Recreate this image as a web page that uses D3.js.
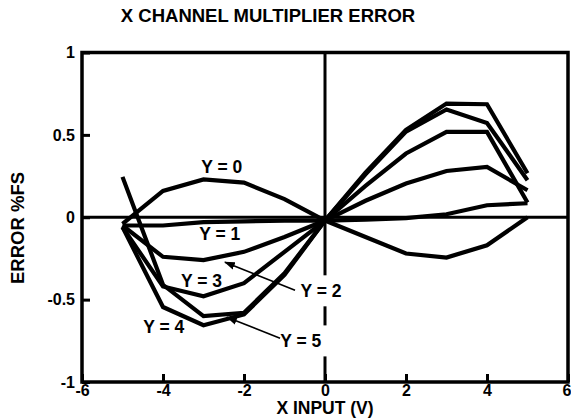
<!DOCTYPE html>
<html>
<head>
<meta charset="utf-8">
<script src="https://cdn.jsdelivr.net/npm/d3@7"></script>
<style>
    html, body { margin: 0; padding: 0; background: #fff; }
    svg { display: block; font-family: 'Liberation Sans', Arial, Helvetica, sans-serif; font-weight: bold; }
</style>
</head>
<body>
<svg id="chart" width="571" height="419"></svg>
<script>
const xInput = [-5, -4, -3, -2, -1, 0, 1, 2, 3, 4, 5];

const errY0 = [-0.04, 0.16, 0.23, 0.21, 0.11, -0.02, -0.12, -0.22, -0.245, -0.17, 0.0];
const errY1 = [-0.05, -0.05, -0.03, -0.025, -0.02, -0.02, -0.015, -0.005, 0.018, 0.073, 0.085];
const errY2 = [-0.05, -0.24, -0.26, -0.21, -0.12, -0.02, 0.10, 0.205, 0.281, 0.305, 0.164];
const errY3 = [-0.06, -0.42, -0.48, -0.40, -0.21, -0.02, 0.19, 0.387, 0.518, 0.518, 0.09];
const errY4 = [-0.06, -0.545, -0.655, -0.59, -0.35, -0.02, 0.27, 0.53, 0.69, 0.686, 0.267];
const errY5 = [0.245, -0.41, -0.60, -0.58, -0.34, -0.02, 0.26, 0.52, 0.654, 0.572, 0.225];

const xTicks = [-6, -4, -2, 0, 2, 4, 6];
const yTicks = [-1, -0.5, 0, 0.5, 1];

// curve labels, in data units: [text, x, y]
const curveLabels = [
    ['Y = 0', -2.55, 0.27],
    ['Y = 1', -2.6, -0.14],
    ['Y = 3', -3.05, -0.425],
    ['Y = 4', -3.98, -0.70]
];
// callouts with arrows: [text, labelX, labelY, fromX, fromY, toX, toY]
const callouts = [
    ['Y = 2', -0.1, -0.486, -0.74, -0.443, -2.47, -0.273],
    ['Y = 5', -0.6, -0.79, -1.11, -0.734, -2.42, -0.607]
];

const margin = { top: 52.5, left: 82, bottom: 37, right: 3 };
const width = 571;
const height = 419;

const svg = d3.select('#chart');

const x = d3.scaleLinear()
    .domain([-6, 6])
    .range([margin.left, width - margin.right]);

const y = d3.scaleLinear()
    .domain([-1, 1])
    .range([height - margin.bottom, margin.top]);

const series = [errY0, errY1, errY2, errY3, errY4, errY5];

svg.append('text')
    .attr('x', 268)
    .attr('y', 22)
    .attr('text-anchor', 'middle')
    .attr('font-size', 18.5)
    .text('X CHANNEL MULTIPLIER ERROR');

// axes
const xAxe = d3.axisBottom(x)
    .tickValues(xTicks)
    .tickFormat(d => String(d))
    .tickSizeInner(-8)
    .tickSizeOuter(0)
    .tickPadding(3);

const yAxe = d3.axisLeft(y)
    .tickValues(yTicks)
    .tickFormat(d => String(d))
    .tickSizeInner(-8)
    .tickSizeOuter(0)
    .tickPadding(7);

const gx = svg.append('g')
    .attr('transform', `translate(0,${y(-1)})`)
    .call(xAxe);

const gy = svg.append('g')
    .attr('transform', `translate(${x(-6)},0)`)
    .call(yAxe);

[gx, gy].forEach((g) => {
    g.select('.domain').remove();
    g.selectAll('line').attr('stroke', '#000').attr('stroke-width', 3);
    g.selectAll('text')
        .attr('fill', '#000')
        .attr('font-size', 16)
        .attr('font-family', null);
});

// last x label sits against the right edge
gx.selectAll('.tick text')
    .filter(d => d === 6)
    .attr('text-anchor', 'end')
    .attr('x', 3);

// zero lines
svg.append('line')
    .attr('x1', x(-6)).attr('x2', x(6))
    .attr('y1', y(0)).attr('y2', y(0))
    .attr('stroke', '#000')
    .attr('stroke-width', 3);

svg.append('line')
    .attr('x1', x(0)).attr('x2', x(0))
    .attr('y1', y(-1)).attr('y2', y(1))
    .attr('stroke', '#000')
    .attr('stroke-width', 3);

// frame
svg.append('rect')
    .attr('x', x(-6))
    .attr('y', y(1))
    .attr('width', x(6) - x(-6))
    .attr('height', y(-1) - y(1))
    .attr('fill', 'none')
    .attr('stroke', '#000')
    .attr('stroke-width', 3.5);

const line = d3.line()
    .x((d, i) => x(xInput[i]))
    .y(d => y(d));

svg.append('g')
    .selectAll('path')
    .data(series)
    .enter()
    .append('path')
    .attr('d', line)
    .attr('fill', 'none')
    .attr('stroke', '#000')
    .attr('stroke-width', 4.2)
    .attr('stroke-linejoin', 'miter');

svg.append('defs')
    .append('marker')
    .attr('id', 'head')
    .attr('viewBox', '0 0 10 10')
    .attr('refX', 9)
    .attr('refY', 5)
    .attr('markerWidth', 11)
    .attr('markerHeight', 11)
    .attr('markerUnits', 'userSpaceOnUse')
    .attr('orient', 'auto')
    .append('path')
    .attr('d', 'M0,1.5 L10,5 L0,8.5 Z')
    .attr('fill', '#000');

svg.append('g')
    .selectAll('text')
    .data(curveLabels)
    .enter()
    .append('text')
    .attr('x', d => x(d[1]))
    .attr('y', d => y(d[2]))
    .attr('text-anchor', 'middle')
    .attr('font-size', 17.5)
    .text(d => d[0]);

const co = svg.append('g')
    .selectAll('g')
    .data(callouts)
    .enter()
    .append('g');

co.append('rect')
    .attr('x', d => x(d[1]) - 27)
    .attr('y', d => y(d[2]) - 22)
    .attr('width', 54)
    .attr('height', 31)
    .attr('fill', '#fff');

co.append('text')
    .attr('x', d => x(d[1]))
    .attr('y', d => y(d[2]))
    .attr('text-anchor', 'middle')
    .attr('font-size', 17.5)
    .text(d => d[0]);

co.append('line')
    .attr('x1', d => x(d[3]))
    .attr('y1', d => y(d[4]))
    .attr('x2', d => x(d[5]))
    .attr('y2', d => y(d[6]))
    .attr('stroke', '#000')
    .attr('stroke-width', 1.6)
    .attr('marker-end', 'url(#head)');

svg.append('text')
    .attr('x', x(0))
    .attr('y', 414)
    .attr('text-anchor', 'middle')
    .attr('font-size', 17.5)
    .text('X INPUT (V)');

svg.append('text')
    .attr('transform', `translate(24,228) rotate(-90)`)
    .attr('text-anchor', 'middle')
    .attr('font-size', 18.5)
    .text('ERROR %FS');
</script>
</body>
</html>
